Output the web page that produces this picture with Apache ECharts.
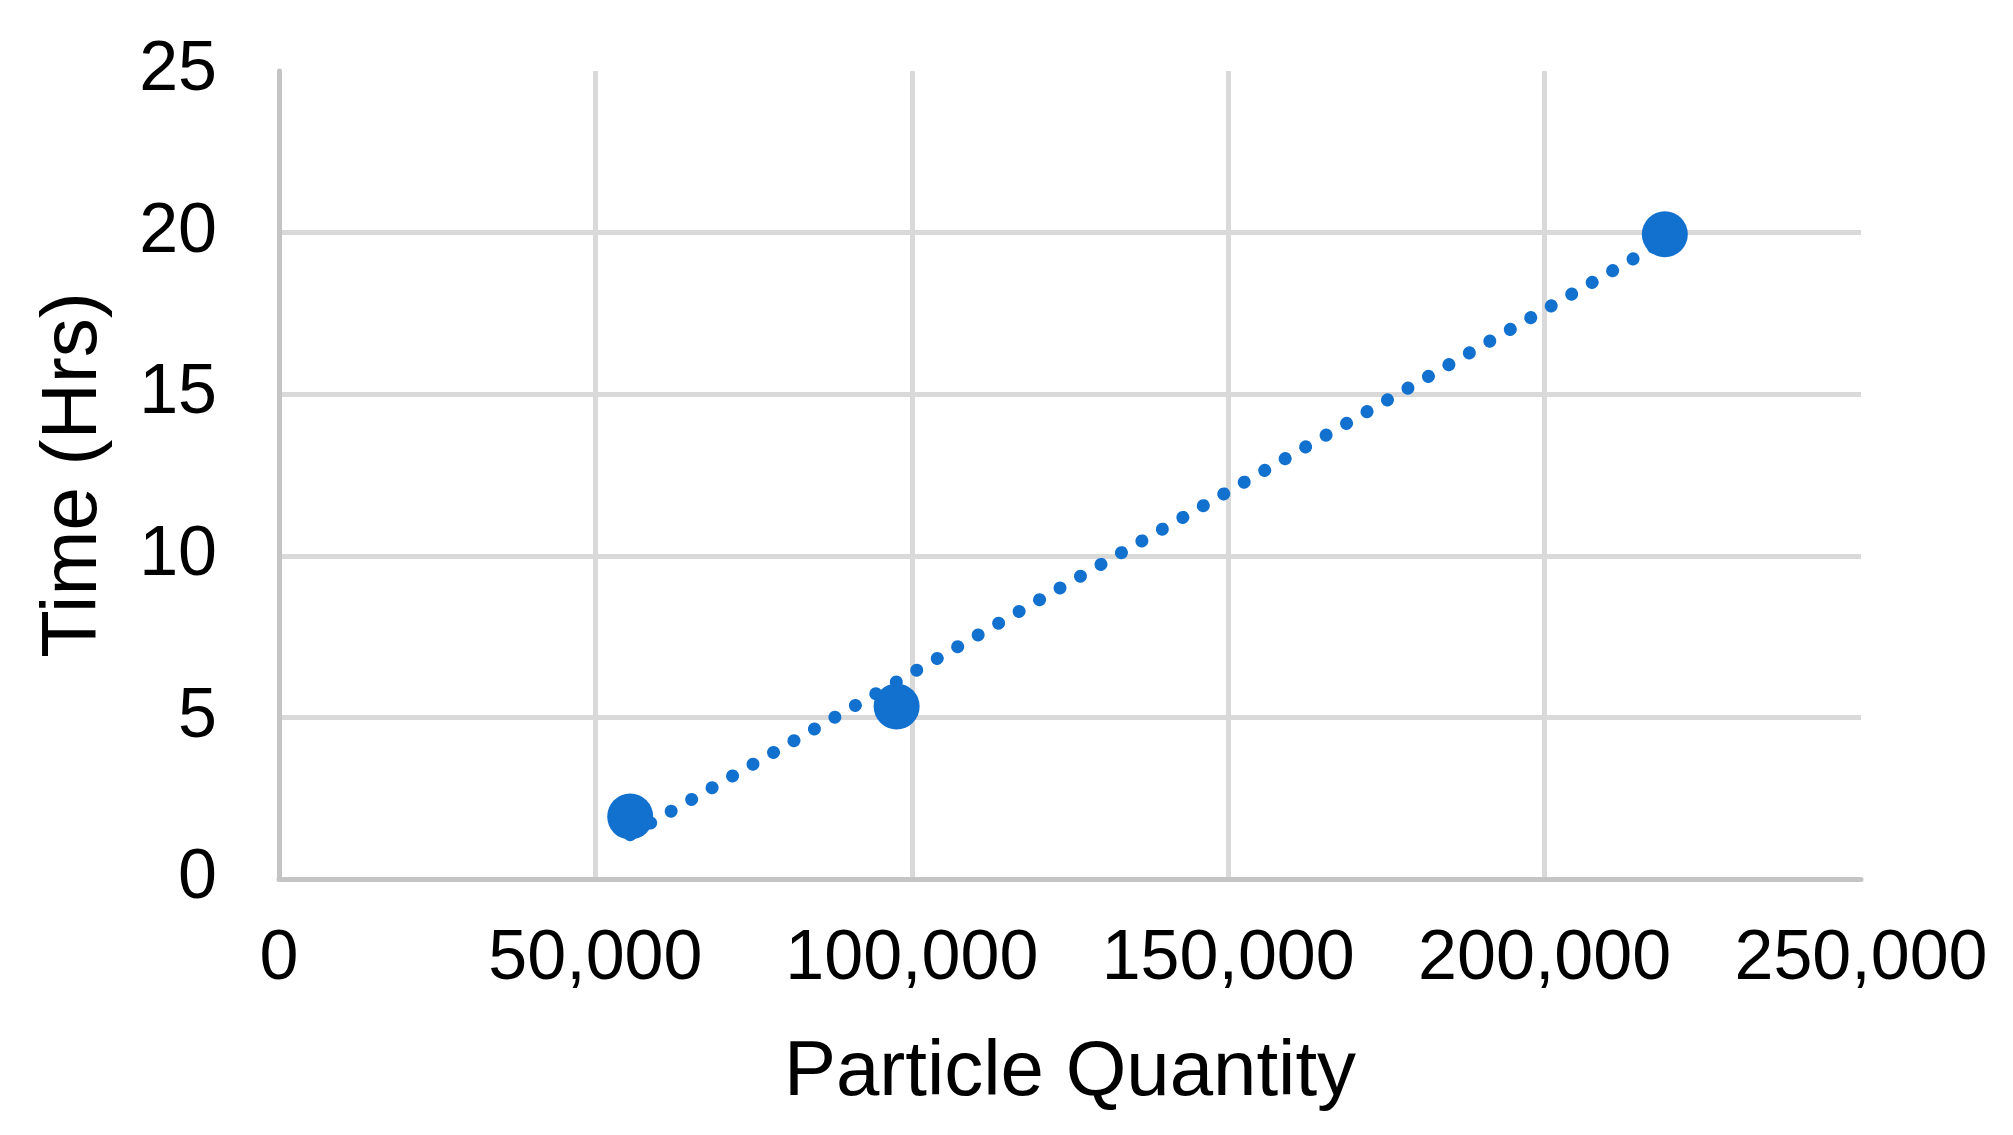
<!DOCTYPE html>
<html>
<head>
<meta charset="utf-8">
<script src="https://cdn.jsdelivr.net/npm/echarts@6/dist/echarts.min.js"></script>
<style>
html,body{margin:0;padding:0;background:#fff;}
#chart{width:2013px;height:1135px;}
</style>
</head>
<body>
<div id="chart"></div>
<script>
// Data
const particleQuantity = [55500, 97600, 219000];
const timeHrs = [1.93, 5.34, 19.95];
// Linear trendline endpoints
const trendX = [55500, 219000];
const trendY = [1.37, 19.75];
const xTicks = [0, 50000, 100000, 150000, 200000, 250000];
const yTicks = [0, 5, 10, 15, 20, 25];

const blue = '#1271CF';
const font = '"Liberation Sans", Arial, sans-serif';
const gridColors = ['#d9d9d9','#d9d9d9','#d9d9d9','#d9d9d9','#d9d9d9','rgba(0,0,0,0)'];

const chart = echarts.init(document.getElementById('chart'), null, {renderer: 'canvas'});
chart.setOption({
  animation: false,
  backgroundColor: '#ffffff',
  grid: {left: 279, right: 152, top: 71, bottom: 256, containLabel: false, outerBoundsMode: 'none'},
  xAxis: {
    type: 'value',
    min: xTicks[0], max: xTicks[xTicks.length - 1], interval: 50000,
    name: 'Particle Quantity',
    nameLocation: 'middle',
    nameGap: 155,
    nameTextStyle: {fontFamily: font, fontSize: 78, color: '#000'},
    axisLine: {show: true, lineStyle: {color: '#c4c4c4', width: 5}},
    axisTick: {show: false},
    axisLabel: {
      fontFamily: font, fontSize: 70, color: '#000', margin: 46,
      formatter: v => v.toLocaleString('en-US')
    },
    splitLine: {show: true, lineStyle: {color: gridColors, width: 5}}
  },
  yAxis: {
    type: 'value',
    min: yTicks[0], max: yTicks[yTicks.length - 1], interval: 5,
    name: 'Time (Hrs)',
    nameLocation: 'middle',
    nameGap: 166,
    nameRotate: 90,
    nameTextStyle: {fontFamily: font, fontSize: 78, color: '#000'},
    axisLine: {show: true, lineStyle: {color: '#c4c4c4', width: 5}},
    axisTick: {show: false},
    axisLabel: {fontFamily: font, fontSize: 70, color: '#000', margin: 62},
    splitLine: {show: true, lineStyle: {color: gridColors, width: 5}}
  },
  series: [
    {
      type: 'line',
      data: trendX.map((x, i) => [x, trendY[i]]),
      showSymbol: false,
      symbol: 'none',
      lineStyle: {color: blue, width: 13, type: [0.1, 23.5], cap: 'round'},
      z: 2
    },
    {
      type: 'scatter',
      data: particleQuantity.map((x, i) => [x, timeHrs[i]]),
      symbol: 'circle',
      symbolSize: 46,
      itemStyle: {color: blue, opacity: 1},
      z: 3
    }
  ]
});
</script>
</body>
</html>
